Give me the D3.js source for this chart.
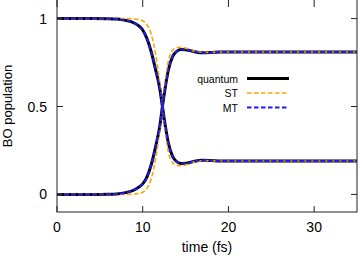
<!DOCTYPE html>
<html><head><meta charset="utf-8">
<script src="https://cdn.jsdelivr.net/npm/d3@7"></script>
<style>body{margin:0;background:#fff}svg{display:block}text{font-family:"Liberation Sans",Arial,sans-serif;fill:#000}</style>
</head><body>
<svg id="c" width="359" height="257"></svg>
<script>
const time = [0,2,4,6,7,8,9,9.5,10,10.5,11,11.5,12,12.3,12.6,13,13.5,14,14.5,15,15.5,16,17,18,19,20,25,30,35];
// quantum: population starting at 1 and starting at 0
const quantumA = [1,1,1,0.999,0.997,0.99,0.975,0.96,0.935,0.885,0.81,0.71,0.6,0.5,0.4,0.29,0.215,0.185,0.176,0.177,0.182,0.188,0.195,0.193,0.19,0.19,0.19,0.19,0.19];
const quantumB = [0,0,0,0.001,0.003,0.01,0.025,0.04,0.06,0.1,0.17,0.27,0.39,0.5,0.6,0.71,0.785,0.815,0.824,0.823,0.818,0.812,0.805,0.807,0.81,0.81,0.81,0.81,0.81];
const stA = [1,1,1,1,1,1,0.998,0.995,0.988,0.965,0.91,0.8,0.63,0.5,0.37,0.24,0.18,0.165,0.163,0.168,0.177,0.185,0.192,0.192,0.19,0.19,0.19,0.19,0.19];
const stB = [0,0,0,0,0,0,0.002,0.005,0.012,0.035,0.09,0.2,0.37,0.5,0.63,0.76,0.82,0.835,0.837,0.832,0.823,0.815,0.808,0.808,0.81,0.81,0.81,0.81,0.81];
const mtA = [1,1,1,0.999,0.997,0.99,0.975,0.96,0.935,0.885,0.81,0.71,0.6,0.5,0.4,0.29,0.215,0.185,0.176,0.177,0.182,0.188,0.195,0.193,0.19,0.19,0.19,0.19,0.19];
const mtB = [0,0,0,0.001,0.003,0.01,0.025,0.04,0.06,0.1,0.17,0.27,0.39,0.5,0.6,0.71,0.785,0.815,0.824,0.823,0.818,0.812,0.805,0.807,0.81,0.81,0.81,0.81,0.81];
const xTicks = [0,10,20,30];
const yTicks = [0,0.5,1];
const yTickLabels = ["0","0.5","1"];
const legendLabels = ["quantum","ST","MT"];

const svg = d3.select("#c");
const L=57,R=357,T=1,B=212;
const x = d3.scaleLinear().domain([0,35]).range([L,R]);
const y = d3.scaleLinear().domain([-0.1,1.1]).range([B,T]);

svg.append("clipPath").attr("id","clip").append("rect").attr("x",L).attr("y",-2).attr("width",R-L).attr("height",B+2);

const series = [
  {name:"quantum", data:[quantumA,quantumB], color:"#000", width:3, dash:null},
  {name:"ST", data:[stA,stB], color:"#ffa500", width:1.6, dash:"4.5,2.5"},
  {name:"MT", data:[mtA,mtB], color:"#1a1aff", width:2, dash:"4.5,2.5"}
];
const line = d3.line().x(d=>x(d[0])).y(d=>y(d[1])).curve(d3.curveMonotoneX);
const g = svg.append("g").attr("clip-path","url(#clip)");
series.forEach(s=>{
  s.data.forEach(arr=>{
    g.append("path").attr("d",line(time.map((t,i)=>[t,arr[i]])))
      .attr("fill","none").attr("stroke",s.color).attr("stroke-width",s.width)
      .attr("stroke-dasharray",s.dash).attr("stroke-linejoin","round");
  });
});

// frame (top edge lies just outside the window) and ticks
const ax = svg.append("g").attr("stroke","#222").attr("stroke-width",1).attr("fill","none");
ax.append("rect").attr("x",L).attr("y",-2).attr("width",R-L).attr("height",B+2);
xTicks.forEach(v=>{
  ax.append("line").attr("x1",x(v)).attr("x2",x(v)).attr("y1",B).attr("y2",B-6);
  ax.append("line").attr("x1",x(v)).attr("x2",x(v)).attr("y1",0).attr("y2",7);
});
yTicks.forEach(v=>{
  ax.append("line").attr("x1",L).attr("x2",L+6).attr("y1",y(v)).attr("y2",y(v));
  ax.append("line").attr("x1",R).attr("x2",R-6).attr("y1",y(v)).attr("y2",y(v));
});
xTicks.forEach(v=>{
  svg.append("text").attr("x",x(v)).attr("y",232).attr("text-anchor","middle").attr("font-size",14).text(v);
});
yTicks.forEach((v,i)=>{
  svg.append("text").attr("x",47).attr("y",y(v)+5).attr("text-anchor","end").attr("font-size",14).text(yTickLabels[i]);
});
svg.append("text").attr("x",207).attr("y",252).attr("text-anchor","middle").attr("font-size",14).text("time (fs)");
svg.append("text").attr("transform","translate(12,106) rotate(-90)").attr("text-anchor","middle").attr("font-size",13).text("BO population");

// legend
legendLabels.forEach((lab,i)=>{
  const s = series[i];
  const ly = 78.5 + i*14.5;
  svg.append("text").attr("x",238).attr("y",ly+4).attr("text-anchor","end").attr("font-size",10.5).text(lab);
  svg.append("line").attr("x1",247).attr("x2",289).attr("y1",ly).attr("y2",ly)
    .attr("stroke",s.color).attr("stroke-width",s.width).attr("stroke-dasharray",s.dash);
});
</script>
</body></html>
